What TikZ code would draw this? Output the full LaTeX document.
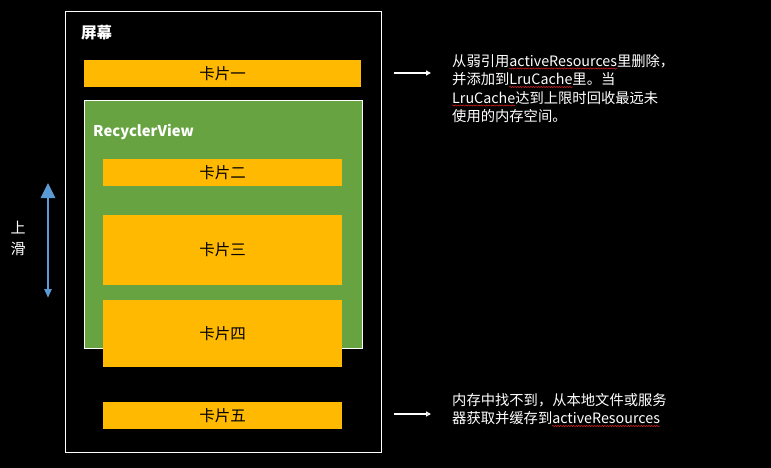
\documentclass[tikz,border=0pt]{standalone}
\usepackage{fontspec}
\setmainfont{Noto Sans CJK SC}
\usetikzlibrary{arrows.meta,decorations.pathmorphing}
\definecolor{cardorange}{HTML}{FFB900}
\definecolor{rvgreen}{HTML}{67A340}
\definecolor{arrowblue}{HTML}{5B9BD5}
\definecolor{waveRed}{HTML}{E02020}
\newcommand\redwave[1]{\tikz[baseline=(w.base),x=1cm,y=1cm]{\node[inner sep=0pt,anchor=base west,text=white] (w) at (0,0) {#1};\draw[overlay,waveRed,line width=0.5pt,decorate,decoration={snake,amplitude=0.6pt,segment length=2.6pt}] ([yshift=-1.8pt]w.south west) -- ([yshift=-1.8pt]w.south east);}}
\tikzset{
  card/.style={fill=cardorange, draw=none, minimum width=239pt, inner sep=0pt, text=black, font=\fontsize{15.5}{17}\selectfont},
  whitearrow/.style={draw=white, line width=1.2pt, -{Triangle[length=5pt,width=5pt]}},
  note/.style={text=white, align=left, anchor=north west, inner sep=0pt, font=\fontsize{14.3}{18.5}\selectfont}
}
\begin{document}
\begin{tikzpicture}[x=1pt,y=-1pt]
\fill[black] (0,0) rectangle (771,468);
\useasboundingbox (0,0) rectangle (771,468);
% screen
\node[draw=white, line width=1pt, minimum width=316pt, minimum height=440pt, inner sep=0pt] (screen) at (223,232) {};
\node[text=white, font=\fontsize{15.5}{17}\selectfont\bfseries, inner sep=0pt] (screenlbl) at (96.5,33) {屏幕};
% card 1
\node[card, minimum width=277pt, minimum height=27pt] (c1) at (222.5,73.5) {卡片一};
% recycler view
\node[fill=rvgreen, draw=white, line width=0.8pt, minimum width=278pt, minimum height=248pt, inner sep=0pt] (rv) at (223,224) {};
\node[text=white, font=\fontsize{14.8}{16}\selectfont\bfseries, anchor=west, inner sep=0pt] (rvlbl) at (93,132) {RecyclerView};
\node[card, minimum height=27pt] (c2) at (222.5,172.5) {卡片二};
\node[card, minimum height=70pt] (c3) at (222.5,250) {卡片三};
\node[card, minimum height=67pt] (c4) at (222.5,333.5) {卡片四};
\node[card, minimum height=27pt] (c5) at (222.5,415.5) {卡片五};
% scroll arrow
\coordinate (up) at (48,183);
\coordinate (down) at (48,298);
\draw[draw=arrowblue, line width=2.8pt, {Triangle[length=15pt,width=14pt]}-{Triangle[length=9pt,width=7pt]}] (up) -- (down);
\node[text=white, align=center, inner sep=0pt, font=\fontsize{15}{21}\selectfont] (slide) at (18,238.5) {上\\滑};
% notes
\coordinate (a1s) at (394,73);
\coordinate (a1e) at (431,73);
\draw[whitearrow] (a1s) -- (a1e);
\node[note] (n1) at (452,54) {从弱引用\redwave{activeResources}里删除，\\并添加到\redwave{LruCache}里。当\\\redwave{LruCache}达到上限时回收最远未\\使用的内存空间。};
\coordinate (a2s) at (394,414);
\coordinate (a2e) at (431,414);
\draw[whitearrow] (a2s) -- (a2e);
\node[note] (n2) at (452,393) {内存中找不到，从本地文件或服务\\器获取并缓存到\redwave{activeResources}};
\end{tikzpicture}
\end{document}
